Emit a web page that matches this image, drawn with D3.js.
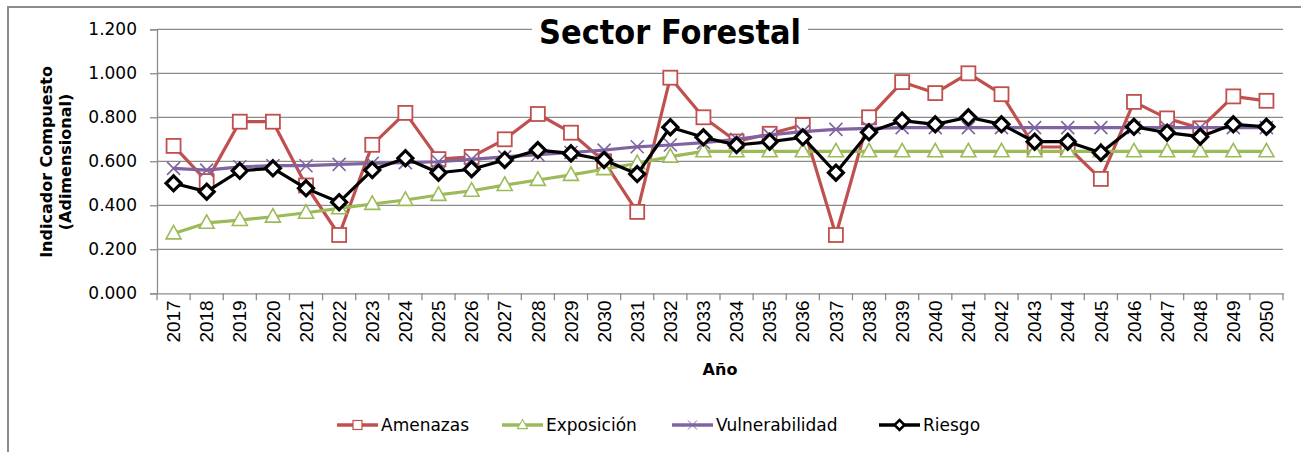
<!DOCTYPE html>
<html><head><meta charset="utf-8">
<script src="https://cdn.jsdelivr.net/npm/d3@7"></script>
<style>body{margin:0;background:#fff}svg{display:block}</style>
</head><body>
<script>
const years = d3.range(2017, 2051).map(String);
const amenazas = [0.67,0.51,0.78,0.78,0.49,0.265,0.675,0.82,0.61,0.62,0.70,0.815,0.73,0.60,0.37,0.98,0.80,0.69,0.725,0.765,0.265,0.80,0.96,0.91,1.00,0.905,0.665,0.665,0.52,0.87,0.795,0.75,0.895,0.875];
const exposicion = [0.272,0.32,0.333,0.348,0.366,0.386,0.406,0.424,0.447,0.466,0.492,0.515,0.538,0.564,0.591,0.621,0.645,0.645,0.645,0.645,0.645,0.645,0.645,0.645,0.645,0.645,0.645,0.645,0.645,0.645,0.645,0.645,0.645,0.645];
const vulnerabilidad = [0.568,0.56,0.575,0.58,0.58,0.586,0.591,0.594,0.598,0.609,0.62,0.63,0.64,0.651,0.666,0.674,0.685,0.70,0.72,0.735,0.745,0.75,0.753,0.753,0.753,0.753,0.753,0.753,0.753,0.753,0.753,0.753,0.753,0.753];
const riesgo = [0.50,0.462,0.557,0.568,0.477,0.414,0.56,0.614,0.548,0.564,0.606,0.651,0.636,0.606,0.542,0.755,0.709,0.674,0.689,0.709,0.548,0.732,0.785,0.768,0.80,0.768,0.689,0.689,0.639,0.757,0.73,0.712,0.768,0.757];
const yTicks = [0,0.2,0.4,0.6,0.8,1.0,1.2];
const seriesNames = ["Amenazas","Exposición","Vulnerabilidad","Riesgo"];

(function(){
const W = 1301, H = 452;
const svg = d3.select("body").append("svg").attr("width", W).attr("height", H);
const gridCol = "#8c8c8c";

svg.append("path").attr("d", `M8,${H+2} L8,7 L${W+2},7`).attr("fill","none").attr("stroke","#8c8c8c").attr("stroke-width",2);

const pl = 157, pr = 1283, pt = 29.3, pb = 293.3;
const x = d3.scaleBand().domain(years).range([pl, pr]);
const y = d3.scaleLinear().domain([0, 1.2]).range([pb, pt]);
const fmt = d3.format(".3f");

svg.append("g").selectAll("line").data(yTicks.filter(d=>d>0)).join("line")
  .attr("x1", pl).attr("x2", pr).attr("y1", d=>y(d)).attr("y2", d=>y(d))
  .attr("stroke", gridCol).attr("stroke-width", 1.3);

const ya = svg.append("g").attr("transform", `translate(${pl},0)`)
  .call(d3.axisLeft(y).tickValues(yTicks).tickFormat(fmt).tickSize(7).tickPadding(13));
ya.select(".domain").attr("stroke", gridCol).attr("stroke-width",1.3);
ya.selectAll(".tick line").attr("stroke", gridCol).attr("stroke-width",1.3);
ya.selectAll("text").attr("font-family","DejaVu Sans").attr("font-size",17).attr("fill","#000");

const xa = svg.append("g").attr("transform", `translate(0,${pb})`)
  .call(d3.axisBottom(x).tickSize(0).tickSizeOuter(0));
xa.select(".domain").attr("stroke", gridCol).attr("stroke-width",1.3);
xa.selectAll(".tick text")
  .attr("font-family","Liberation Sans").attr("font-size",19).attr("fill","#000")
  .attr("transform","rotate(-90)").attr("text-anchor","end")
  .attr("x", -7).attr("y", 0).attr("dy","0.35em");
const bounds = years.map(d=>x(d)).concat([pr]);
svg.append("g").selectAll("line").data(bounds).join("line")
  .attr("x1", d=>d).attr("x2", d=>d).attr("y1", pb).attr("y2", pb+7)
  .attr("stroke", gridCol).attr("stroke-width",1.3);

svg.append("text").attr("x", (pl+pr)/2).attr("y", 375).attr("text-anchor","middle")
  .attr("font-family","DejaVu Sans").attr("font-weight","bold").attr("font-size",16).text("Año");
const yt = svg.append("text").attr("transform","translate(52,162) rotate(-90)")
  .attr("text-anchor","middle").attr("font-family","DejaVu Sans").attr("font-weight","bold").attr("font-size",16);
yt.append("tspan").attr("x",0).attr("dy",0).text("Indicador Compuesto");
yt.append("tspan").attr("x",0).attr("dy",19).text("(Adimensional)");

svg.append("rect").attr("x",532).attr("y",12).attr("width",276).attr("height",38).attr("fill","#fff");
svg.append("text").attr("x",670).attr("y",44).attr("text-anchor","middle")
  .attr("font-family","DejaVu Sans").attr("font-weight","bold").attr("font-size",33)
  .attr("textLength",262).attr("lengthAdjust","spacingAndGlyphs").text("Sector Forestal");

const cx = i => x(years[i]) + x.bandwidth()/2;
const colors = ["#C0504D","#9BBB59","#8064A2","#000000"];
const markers = ["square","triangle","x","diamond"];
const allVals = [amenazas, exposicion, vulnerabilidad, riesgo];
const series = seriesNames.map((n,i)=>({name:n, vals:allVals[i], color:colors[i], marker:markers[i]}));

function drawMarker(g, type, color, s, sw) {
  if (type === "square") {
    g.append("rect").attr("x",-s/2).attr("y",-s/2).attr("width",s).attr("height",s)
      .attr("fill","#fff").attr("stroke",color).attr("stroke-width",sw);
  } else if (type === "triangle") {
    const h = s*0.9;
    g.append("path").attr("d",`M0,${-h*0.6}L${s/2},${h*0.4}L${-s/2},${h*0.4}Z`)
      .attr("fill","#fff").attr("stroke",color).attr("stroke-width",sw);
  } else if (type === "x") {
    g.append("path").attr("d",`M${-s/2},${-s/2}L${s/2},${s/2}M${-s/2},${s/2}L${s/2},${-s/2}`)
      .attr("stroke",color).attr("stroke-width",sw);
  } else if (type === "diamond") {
    g.append("path").attr("d",`M0,${-s/2}L${s/2},0L0,${s/2}L${-s/2},0Z`)
      .attr("fill","#fff").attr("stroke",color).attr("stroke-width",sw).attr("stroke-linejoin","miter");
  }
}

const line = d3.line().x((d,i)=>cx(i)).y(d=>y(d));
series.forEach(s => {
  const g = svg.append("g");
  g.append("path").datum(s.vals).attr("d", line).attr("fill","none")
    .attr("stroke", s.color).attr("stroke-width", 3.2).attr("stroke-linejoin","round");
  s.vals.forEach((v,i) => {
    const m = g.append("g").attr("transform",`translate(${cx(i)},${y(v)})`);
    if (s.marker==="square") drawMarker(m,"square",s.color,14,1.8);
    if (s.marker==="triangle") drawMarker(m,"triangle",s.color,15,1.6);
    if (s.marker==="x") drawMarker(m,"x",s.color,13,1.6);
    if (s.marker==="diamond") drawMarker(m,"diamond",s.color,15,3.2);
  });
});

const legX = [337, 502, 672, 879];
const legY = 425;
series.forEach((s,i) => {
  const g = svg.append("g").attr("transform",`translate(${legX[i]},${legY})`);
  g.append("line").attr("x1",0).attr("x2",41).attr("y1",0).attr("y2",0)
    .attr("stroke", s.color).attr("stroke-width",3.5);
  const m = g.append("g").attr("transform","translate(20.5,0)");
  if (s.marker==="square") drawMarker(m,"square",s.color,9,1.2);
  if (s.marker==="triangle") drawMarker(m,"triangle",s.color,10,1.1);
  if (s.marker==="x") drawMarker(m,"x",s.color,9,1);
  if (s.marker==="diamond") drawMarker(m,"diamond",s.color,10,2.5);
  g.append("text").attr("x",44).attr("y",0).attr("dy","0.35em")
    .attr("font-family","DejaVu Sans").attr("font-size",17).attr("fill","#000").text(s.name);
});
})();
</script>
</body></html>
